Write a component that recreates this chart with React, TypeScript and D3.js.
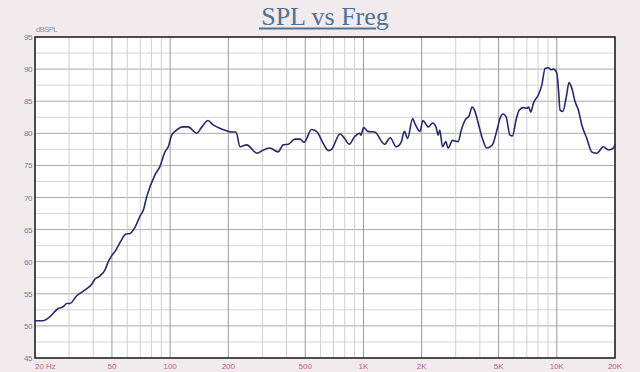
import React from "react";
import * as d3 from "d3";

// frequency response
const freqs = [
  20, 22, 23.4, 26.4, 28, 29.2, 30.3, 32.9, 36.3, 39.3, 40.9, 43.4, 46, 47.9, 49.8, 51.9, 55.1, 59.1, 62.1, 65.9,
  69.9, 72.6, 75.6, 83.4, 88.5, 94, 97.8, 101.8, 106, 117, 124, 137, 146, 157, 167, 177, 196, 208, 219, 230,
  249, 281, 304, 328, 362, 384, 408, 442, 470, 493, 539, 572, 620, 658, 684, 756, 803, 842, 902, 956,
  970, 1002, 1054, 1144, 1286, 1375, 1476, 1566, 1628, 1692, 1796, 1840, 1962, 2028, 2164, 2278, 2372, 2435, 2482, 2564,
  2666, 2740, 2888, 3086, 3212, 3380, 3520, 3646, 3768, 3920, 4132, 4338, 4514, 4680, 4930, 5096, 5278, 5464, 5730, 5900,
  6160, 6380, 6714, 6998, 7150, 7334, 7568, 8032, 8362, 8696, 9046, 9366, 9600, 10000, 10190, 10400, 10740, 11170, 11580, 11960,
  12440, 12940, 13470, 14300, 15170, 16100, 17420, 18490, 19620, 20000,
];
const spl = [
  50.8, 50.8, 51.2, 52.7, 53.0, 53.5, 53.5, 54.7, 55.6, 56.5, 57.3, 57.8, 58.7, 60.0, 60.9, 61.6, 63.0, 64.3, 64.4, 65.4,
  67.1, 68.0, 70.1, 73.5, 74.8, 77.1, 77.9, 79.7, 80.3, 81.0, 81.0, 80.0, 81.0, 82.0, 81.3, 80.9, 80.4, 80.2, 80.2, 77.9,
  78.2, 76.9, 77.4, 77.7, 77.1, 78.2, 78.3, 79.1, 79.1, 78.6, 80.6, 80.3, 78.4, 77.3, 77.5, 79.9, 79.1, 78.3, 79.5, 80.0,
  79.7, 80.9, 80.3, 80.2, 78.3, 79.3, 77.9, 78.6, 80.3, 79.2, 82.3, 81.6, 80.3, 82.0, 81.0, 81.6, 81.0, 79.7, 80.5, 77.9,
  78.7, 77.7, 78.9, 78.7, 80.6, 82.2, 82.7, 84.1, 83.5, 81.6, 79.1, 77.7, 77.9, 78.4, 80.8, 82.4, 83.0, 82.6, 79.7, 79.6,
  82.1, 83.6, 84.0, 83.9, 84.1, 83.3, 84.7, 86.0, 87.5, 90.1, 90.2, 89.9, 90.0, 89.4, 87.0, 83.6, 83.4, 85.5, 87.9, 87.0,
  84.9, 83.6, 81.3, 79.2, 77.1, 76.9, 77.9, 77.4, 77.7, 78.3,
];

const yTicks = [95, 90, 85, 80, 75, 70, 65, 60, 55, 50, 45];
const xLabelFreqs = [50, 100, 200, 500, 1000, 2000, 5000, 10000, 20000];
const xLabels = ["50", "100", "200", "500", "1K", "2K", "5K", "10K", "20K"];
const majorFreqs = [20, 50, 100, 200, 500, 1000, 2000, 5000, 10000, 20000];

export default function App() {
  const W = 640;
  const H = 372;
  const m = { top: 37, right: 25, bottom: 14, left: 35 };
  const x = d3.scaleLog().domain([20, 20000]).range([m.left, W - m.right]);
  const y = d3.scaleLinear().domain([45, 95]).range([H - m.bottom, m.top]);

  // all 1-2-…-9 gridlines in each decade
  const gridFreqs: number[] = [];
  [10, 100, 1000, 10000].forEach((dec) => {
    for (let k = 1; k <= 9; k++) {
      const f = dec * k;
      if (f >= 20 && f <= 20000) gridFreqs.push(f);
    }
  });
  const hGrid = d3.range(45, 95.01, 2.5);

  const pts = freqs.map((f, i) => [f, spl[i]] as [number, number]);
  const line = d3
    .line<[number, number]>()
    .x((d) => x(d[0]))
    .y((d) => y(d[1]))
    .curve(d3.curveMonotoneX);

  return (
    <svg
      width={W}
      height={H}
      style={{ position: "absolute", left: 0, top: 0, background: "#f2ebee" }}
    >
      <rect x={m.left} y={m.top} width={x.range()[1] - m.left} height={y(45) - m.top} fill="#ffffff" />

      {hGrid.map((v) => (
        <line
          key={"h" + v}
          x1={m.left}
          x2={x.range()[1]}
          y1={y(v)}
          y2={y(v)}
          stroke={v % 5 === 0 ? "#a9a9a9" : "#d4d4d4"}
          strokeWidth={1}
        />
      ))}
      {gridFreqs.map((f) => (
        <line
          key={"v" + f}
          x1={x(f)}
          x2={x(f)}
          y1={m.top}
          y2={y(45)}
          stroke={majorFreqs.includes(f) ? "#9a9a9a" : "#cfcfcf"}
          strokeWidth={1}
        />
      ))}

      <path d={line(pts) || ""} fill="none" stroke="#262a6a" strokeWidth={1.6} strokeLinejoin="round" />

      <rect
        x={m.left}
        y={m.top}
        width={x.range()[1] - m.left}
        height={y(45) - m.top}
        fill="none"
        stroke="#2b2b2b"
        strokeWidth={1.6}
      />

      {yTicks.map((v) => (
        <text
          key={"yt" + v}
          x={m.left - 3}
          y={y(v) + 3}
          textAnchor="end"
          fontFamily="Liberation Sans, Arial, sans-serif"
          fontSize={8}
          fill="#6b7f9c"
          letterSpacing={-0.5}
        >
          {v}
        </text>
      ))}
      <text x={m.left + 1} y={32} fontFamily="Liberation Sans, Arial, sans-serif" fontSize={7.5} fill="#8a90a4" letterSpacing={-0.5}>
        dBSPL
      </text>

      <text x={x(20)} y={369} fontFamily="Liberation Sans, Arial, sans-serif" fontSize={8} fill="#c2588f">
        20
      </text>
      <text x={x(20) + 11} y={369} fontFamily="Liberation Sans, Arial, sans-serif" fontSize={8} fill="#c2588f">
        Hz
      </text>
      {xLabelFreqs.map((f, i) => (
        <text
          key={"xt" + f}
          x={x(f)}
          y={369}
          textAnchor="middle"
          fontFamily="Liberation Sans, Arial, sans-serif"
          fontSize={8}
          fill="#c2588f"
        >
          {xLabels[i]}
        </text>
      ))}

      <text
        x={325}
        y={25}
        textAnchor="middle"
        fontFamily="Liberation Serif, DejaVu Serif, serif"
        fontSize={26}
        fill="#4e7396"
      >
        SPL vs Freg
      </text>
      <line x1={259} x2={376} y1={28.5} y2={28.5} stroke="#4e7396" strokeWidth={2} />
    </svg>
  );
}
